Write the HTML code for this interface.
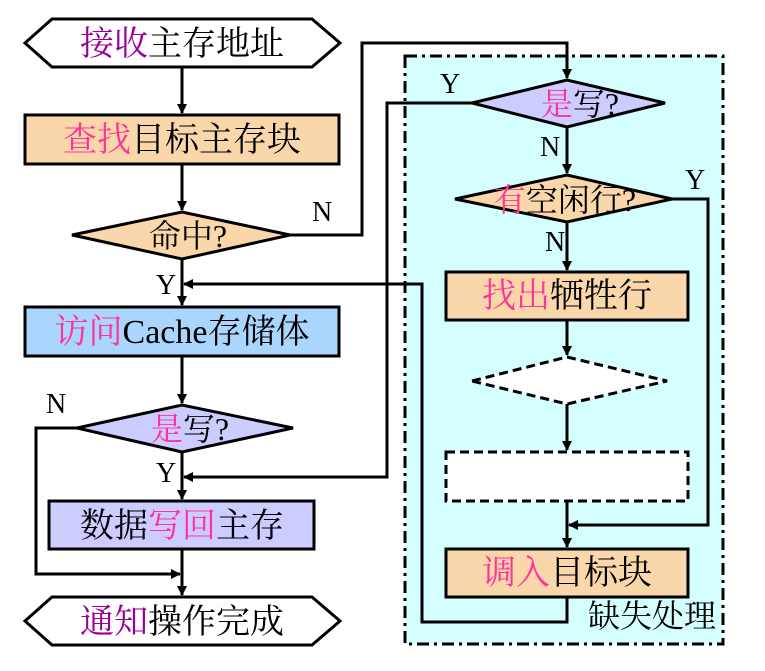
<!DOCTYPE html>
<html><head><meta charset="utf-8"><style>
body{margin:0;background:#fff}
svg text{font-family:"Liberation Serif","Noto Serif CJK SC",serif;font-size:34px;}
</style></head><body>
<svg width="765" height="666" xmlns="http://www.w3.org/2000/svg">
<defs><marker id="a" markerWidth="10" markerHeight="10" refX="9" refY="5" orient="auto" markerUnits="userSpaceOnUse"><path d="M0,0 L10,5 L0,10 z" fill="#000"/></marker></defs>
<rect x="405" y="56" width="318" height="588" fill="#d5ffff" stroke="#000" stroke-width="3" stroke-dasharray="12,5,3,5"/>
<g stroke="#000" stroke-width="3" fill="none">
<polygon points="25,43 52,19 312,19 340,43 312,67 52,67" fill="#fff"/>
<polygon points="25,621 52,597 312,597 340,621 312,645 52,645" fill="#fff"/>
<rect x="25" y="115" width="314" height="49" fill="#fad7aa"/>
<polygon points="72,235 182,212 290,235 182,259" fill="#fad7aa"/>
<rect x="25" y="307" width="314" height="49" fill="#aad5fd"/>
<polygon points="77,428 182,405 293,428 182,452" fill="#ccccff"/>
<rect x="49" y="501" width="265" height="48" fill="#ccccff"/>
<polygon points="472,103 567,80 665,103 567,127" fill="#ccccff"/>
<polygon points="455,199 567,175 672,199 567,222" fill="#fad7aa"/>
<rect x="446" y="272" width="242" height="48" fill="#fad7aa"/>
<polygon points="472,381 567,357 667,381 567,404" fill="#fff" stroke-dasharray="9,5"/>
<rect x="446" y="452" width="242" height="49" fill="#fff" stroke-dasharray="9,5"/>
<rect x="446" y="549" width="242" height="48" fill="#fad7aa"/>
<path d="M182,67 V113" marker-end="url(#a)"/>
<path d="M182,164 V210" marker-end="url(#a)"/>
<path d="M182,259 V305" marker-end="url(#a)"/>
<path d="M182,356 V403" marker-end="url(#a)"/>
<path d="M182,452 V499" marker-end="url(#a)"/>
<path d="M182,549 V595" marker-end="url(#a)"/>
<path d="M77,428 H36 V574 H180" marker-end="url(#a)"/>
<path d="M290,235 H362 V43 H567 V78" marker-end="url(#a)"/>
<path d="M472,103 H387 V477 H184" marker-end="url(#a)"/>
<path d="M567,127 V173" marker-end="url(#a)"/>
<path d="M672,199 H708 V525 H569" marker-end="url(#a)"/>
<path d="M567,222 V270" marker-end="url(#a)"/>
<path d="M567,320 V355" marker-end="url(#a)"/>
<path d="M567,404 V450" marker-end="url(#a)"/>
<path d="M567,501 V547" marker-end="url(#a)"/>
<path d="M567,597 V622 H422 V284 H184" marker-end="url(#a)"/>
</g>
<g text-anchor="middle">
<text x="182" y="55"><tspan fill="#990099">接收</tspan>主存地址</text>
<text x="182" y="151"><tspan fill="#ff3399">查找</tspan>目标主存块</text>
<text x="188" y="247" style="font-size:32px">命中?</text>
<text x="190" y="440" style="font-size:32px"><tspan fill="#ff3399">是</tspan>写?</text>
<text x="182" y="343"><tspan fill="#ff3399">访问</tspan>Cache存储体</text>
<text x="182" y="537">数据<tspan fill="#ff3399">写回</tspan>主存</text>
<text x="182" y="633"><tspan fill="#990099">通知</tspan>操作完成</text>
<text x="580" y="115" style="font-size:32px"><tspan fill="#ff3399">是</tspan>写?</text>
<text x="565" y="211" style="font-size:32px"><tspan fill="#ff3399">有</tspan>空闲行?</text>
<text x="567" y="307"><tspan fill="#ff3399">找出</tspan>牺牲行</text>
<text x="567" y="584"><tspan fill="#ff3399">调入</tspan>目标块</text>
<text x="652" y="627" style="font-size:32px">缺失处理</text>
</g>
<g>
<text x="312" y="221" style="font-size:28px">N</text>
<text x="156" y="294" style="font-size:28px">Y</text>
<text x="46" y="413" style="font-size:28px">N</text>
<text x="156" y="482" style="font-size:28px">Y</text>
<text x="440" y="93" style="font-size:28px">Y</text>
<text x="540" y="156" style="font-size:28px">N</text>
<text x="685" y="189" style="font-size:28px">Y</text>
<text x="545" y="251" style="font-size:28px">N</text>
</g>
</svg>
</body></html>
